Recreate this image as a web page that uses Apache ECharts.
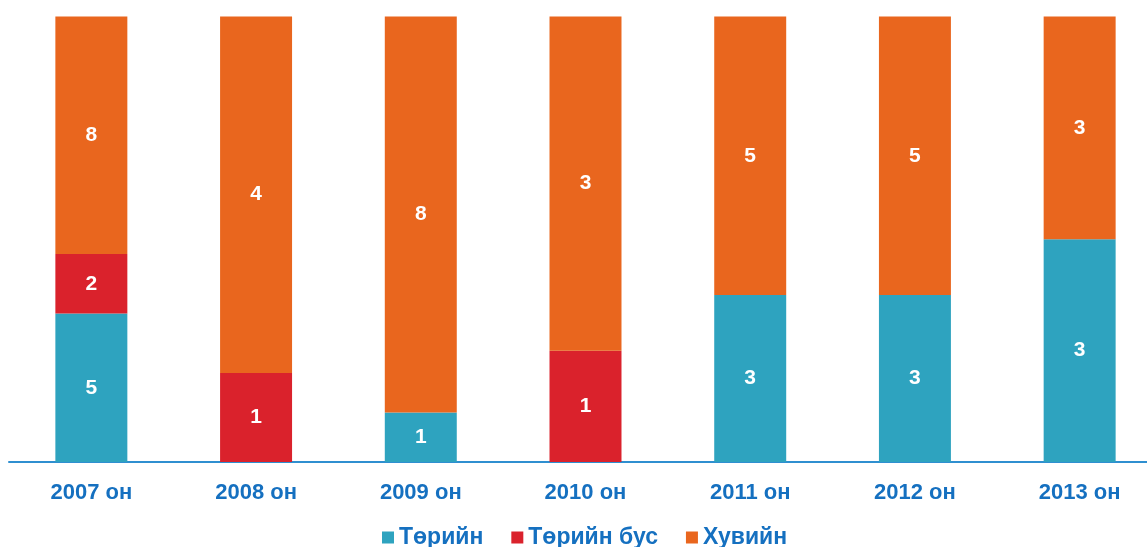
<!DOCTYPE html>
<html>
<head>
<meta charset="utf-8">
<script src="https://cdn.jsdelivr.net/npm/echarts@6/dist/echarts.min.js"></script>
<style>
  html, body { margin: 0; padding: 0; background: #fff; overflow: hidden; }
  #chart { width: 1162px; height: 547px; }
</style>
</head>
<body>
<div id="chart"></div>
<script>
// Categories and counts per ownership type
const categories = ['2007 он', '2008 он', '2009 он', '2010 он', '2011 он', '2012 он', '2013 он'];
const seriesNames = ['Төрийн', 'Төрийн бус', 'Хувийн'];
const stateValues = [5, 0, 1, 0, 3, 3, 3];
const nonStateValues = [2, 1, 0, 1, 0, 0, 0];
const privateValues = [8, 4, 8, 3, 5, 5, 3];
const colors = ['#2EA3BF', '#DA222C', '#E9661E'];

const raw = [stateValues, nonStateValues, privateValues];
const totals = categories.map((_, i) => raw.reduce((s, arr) => s + arr[i], 0));

const FONT = '"Liberation Sans", Arial, sans-serif';

const series = raw.map((vals, k) => ({
  name: seriesNames[k],
  type: 'bar',
  stack: 'share',
  barWidth: '43.7%',
  itemStyle: { color: colors[k] },
  data: vals.map((v, i) => ({ value: v === 0 ? null : v / totals[i] * 100, raw: v })),
  label: {
    show: true,
    position: 'inside',
    color: '#fff',
    fontFamily: FONT,
    fontWeight: 'bold',
    fontSize: 21,
    formatter: p => p.data && p.data.raw ? String(p.data.raw) : ''
  }
}));

const chart = echarts.init(document.getElementById('chart'), null, { renderer: 'canvas' });
chart.setOption({
  animation: false,
  grid: { left: 9, right: 0, top: 16.5, bottom: 85, containLabel: false },
  legend: {
    bottom: -7,
    left: 377,
    itemWidth: 12,
    itemHeight: 12,
    itemGap: 28,
    icon: 'rect',
    textStyle: { color: '#1570C0', fontFamily: FONT, fontWeight: 'bold', fontSize: 23 },
    data: seriesNames
  },
  xAxis: {
    type: 'category',
    data: categories,
    axisLine: { lineStyle: { color: '#2F8FD0', width: 2 } },
    axisTick: { show: false },
    axisLabel: {
      color: '#1570C0',
      fontFamily: FONT,
      fontWeight: 'bold',
      fontSize: 22,
      margin: 20
    }
  },
  yAxis: {
    type: 'value',
    min: 0,
    max: 100,
    show: false,
    splitLine: { show: false }
  },
  series: series
});
</script>
</body>
</html>
